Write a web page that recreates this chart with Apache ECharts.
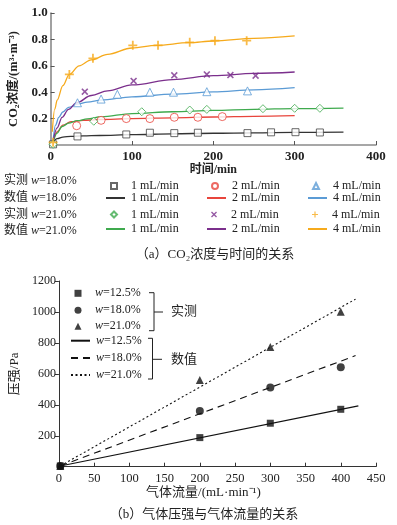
<!DOCTYPE html>
<html>
<head>
<meta charset="utf-8">
<script src="https://cdn.jsdelivr.net/npm/echarts@6/dist/echarts.min.js"></script>
<style>
  html, body { margin: 0; padding: 0; background: #fff; }
  #chart { width: 397px; height: 525px; }
</style>
</head>
<body>
<div id="chart"></div>
<script>
// ---- (a) CO2 concentration vs time ----
// measured points [t(min), C]
const sq18 = [[3, 0.005], [33, 0.065], [93, 0.08], [122, 0.093], [152, 0.09], [181, 0.093], [242, 0.09], [271, 0.096], [301, 0.097], [331, 0.095]];
const circ18 = [[32, 0.146], [62, 0.187], [93, 0.2], [122, 0.2], [152, 0.21], [181, 0.21], [211, 0.215]];
const tri18 = [[33, 0.32], [62, 0.348], [82, 0.384], [122, 0.4], [151, 0.4], [192, 0.404], [242, 0.41]];
const dia21 = [[3, 0.005], [53, 0.18], [112, 0.252], [171, 0.265], [192, 0.27], [261, 0.275], [300, 0.278], [331, 0.278]];
const cross21 = [[42, 0.404], [102, 0.485], [152, 0.528], [192, 0.535], [221, 0.53], [252, 0.525]];
const plus21 = [[3, 0.02], [23, 0.535], [52, 0.657], [101, 0.755], [132, 0.755], [171, 0.778], [202, 0.79], [241, 0.79]];
// numerical curves [t, C]
const num18_1 = [[3, 0.02], [8, 0.048], [15, 0.06], [25, 0.066], [40, 0.069], [60, 0.072], [100, 0.078], [150, 0.085], [200, 0.089], [250, 0.092], [300, 0.095], [360, 0.097]];
const num18_2 = [[3, 0.03], [8, 0.1], [15, 0.15], [25, 0.177], [40, 0.186], [60, 0.193], [100, 0.2], [150, 0.206], [200, 0.212], [250, 0.217], [300, 0.222]];
const num18_4 = [[3, 0.03], [6, 0.15], [10, 0.21], [15, 0.25], [22, 0.285], [33, 0.31], [45, 0.325], [62, 0.34], [100, 0.365], [150, 0.385], [200, 0.402], [250, 0.418], [300, 0.434]];
const num21_1 = [[3, 0.02], [8, 0.09], [14, 0.14], [22, 0.165], [33, 0.184], [45, 0.198], [62, 0.214], [100, 0.238], [150, 0.252], [200, 0.262], [250, 0.27], [300, 0.276], [360, 0.28]];
const num21_2 = [[3, 0.03], [8, 0.13], [14, 0.21], [22, 0.27], [32, 0.32], [50, 0.375], [70, 0.41], [100, 0.455], [150, 0.495], [200, 0.525], [250, 0.542], [300, 0.553]];
const num21_4 = [[2, 0.1], [5, 0.27], [8, 0.34], [15, 0.45], [23, 0.535], [35, 0.6], [50, 0.645], [70, 0.687], [100, 0.735], [130, 0.755], [170, 0.775], [200, 0.788], [250, 0.808], [300, 0.826]];

// ---- (b) pressure vs gas flow ----
const p125 = [[2, 5], [200, 188], [300, 281], [400, 371]];
const p180 = [[2, 5], [200, 360], [300, 511], [400, 643]];
const p210 = [[2, 5], [200, 561], [300, 773], [400, 1001]];
const n125 = [[2, 5], [425, 393]];
const n180 = [[2, 5], [421, 718]];
const n210 = [[2, 5], [421, 1083]];

const serif = "'Liberation Serif','Noto Sans CJK SC',serif";
const C_BLACK = '#333', C_RED = '#e8453c', C_BLUE = '#5b9bd5', C_GREEN = '#3faa4e', C_PURPLE = '#7b2f8c', C_YELLOW = '#f6aa1c';
const X_PATH = 'path://M0,1.6L1.6,0L5,3.4L8.4,0L10,1.6L6.6,5L10,8.4L8.4,10L5,6.6L1.6,10L0,8.4L3.4,5Z';
const PLUS_PATH = 'path://M4,0H6V4H10V6H6V10H4V6H0V4H4Z';

const labels = {};
function scat(name, label, data, symbol, size, color, hollow, xi) {
    labels[name] = label;
    return {
        name: name, type: 'scatter', xAxisIndex: xi, yAxisIndex: xi, data: data,
        symbol: symbol, symbolSize: size, z: 5,
        itemStyle: hollow ? { color: '#fff', borderColor: color, borderWidth: 1 } : { color: color }
    };
}
function curve(name, label, data, color, xi, type) {
    labels[name] = label;
    return {
        name: name, type: 'line', xAxisIndex: xi, yAxisIndex: xi, data: data,
        symbol: 'none', smooth: xi === 0 ? 0.35 : false, smoothMonotone: 'x',
        lineStyle: { color: color, width: xi === 0 ? 1.3 : 1.1, type: type || 'solid' },
        itemStyle: { color: color }
    };
}

const series = [
    curve('n18_1', '1 mL/min', num18_1, C_BLACK, 0),
    curve('n18_2', '2 mL/min', num18_2, C_RED, 0),
    curve('n18_4', '4 mL/min', num18_4, C_BLUE, 0),
    curve('n21_1', '1 mL/min', num21_1, C_GREEN, 0),
    curve('n21_2', '2 mL/min', num21_2, C_PURPLE, 0),
    curve('n21_4', '4 mL/min', num21_4, C_YELLOW, 0),
    scat('m18_1', '1 mL/min', sq18, 'rect', 7, '#444', true, 0),
    scat('m18_2', '2 mL/min', circ18, 'circle', 8, C_RED, true, 0),
    scat('m18_4', '4 mL/min', tri18, 'triangle', 8, C_BLUE, true, 0),
    scat('m21_1', '1 mL/min', dia21, 'diamond', 8, C_GREEN, true, 0),
    scat('m21_2', '2 mL/min', cross21, X_PATH, 7, C_PURPLE, false, 0),
    scat('m21_4', '4 mL/min', plus21, PLUS_PATH, 9, C_YELLOW, false, 0),

    curve('n12.5', '{i|w}=12.5%', n125, '#111', 1, 'solid'),
    curve('n18.0', '{i|w}=18.0%', n180, '#111', 1, [7, 5]),
    curve('n21.0', '{i|w}=21.0%', n210, '#111', 1, [2, 2.5]),
    scat('p12.5', '{i|w}=12.5%', p125, 'rect', 7, '#111', false, 1),
    scat('p18.0', '{i|w}=18.0%', p180, 'circle', 8, '#111', false, 1),
    scat('p21.0', '{i|w}=21.0%', p210, 'triangle', 8, '#111', false, 1)
];

// legend layout
const legends = [];
function addLegend(name, x, y, isLine, size, markSize) {
    const iw = isLine ? 19 : markSize;
    const off = isLine ? 25 : 17 + markSize / 2;
    const lg = {
        data: [name], left: x - off, top: y - 7, padding: 0,
        itemWidth: iw, itemHeight: isLine ? 8 : markSize, selectedMode: false,
        formatter: n => labels[n],
        textStyle: {
            fontFamily: serif, fontSize: size, color: '#222',
            padding: [0, 0, 0, off - iw - 5],
            rich: { i: { fontStyle: 'italic', fontFamily: serif, fontSize: size, color: '#222' } }
        }
    };
    if (isLine) lg.itemStyle = { opacity: 0 };
    legends.push(lg);
}
const rowsA = [187, 199, 215.5, 230];
const colsA = [130, 231, 332];
[['m18_1', 'm18_2', 'm18_4'], ['n18_1', 'n18_2', 'n18_4'], ['m21_1', 'm21_2', 'm21_4'], ['n21_1', 'n21_2', 'n21_4']]
    .forEach((row, r) => row.forEach((n, c) => addLegend(n, colsA[c], rowsA[r], n[0] === 'n', 12, 6)));
const rowsB = [294.3, 311.3, 327.3, 341.7, 359, 376];
['p12.5', 'p18.0', 'p21.0', 'n12.5', 'n18.0', 'n21.0'].forEach((n, r) => addLegend(n, 95, rowsB[r], n[0] === 'n', 12, 7));

function txt(x, y, text, size, align, extra) {
    return {
        type: 'text', x: x, y: y,
        style: Object.assign({
            text: text, fontFamily: serif, fontSize: size, fill: '#222',
            align: align || 'left', verticalAlign: 'middle',
            rich: { i: { fontStyle: 'italic', fontFamily: serif, fontSize: size, fill: '#222' } }
        }, extra || {})
    };
}
const bk = { stroke: '#222', lineWidth: 1, fill: null };
const graphic = [
    txt(4, 181, '实测 {i|w}=18.0%', 12),
    txt(4, 198, '数值 {i|w}=18.0%', 12),
    txt(4, 214.5, '实测 {i|w}=21.0%', 12),
    txt(4, 230.5, '数值 {i|w}=21.0%', 12),
    txt(215, 255, '（a）CO₂浓度与时间的关系', 13, 'center'),
    txt(204, 515, '（b）气体压强与气体流量的关系', 13, 'center'),
    { type: 'polyline', shape: { points: [[149, 292.7], [154, 292.7], [154, 330.7], [149, 330.7]] }, style: bk },
    { type: 'line', shape: { x1: 154, y1: 312, x2: 163, y2: 312 }, style: bk },
    txt(171, 312, '实测', 13),
    { type: 'polyline', shape: { points: [[148, 338.3], [152.5, 338.3], [152.5, 379], [148, 379]] }, style: bk },
    { type: 'line', shape: { x1: 152.5, y1: 359.3, x2: 162, y2: 359.3 }, style: bk },
    txt(171, 359.3, '数值', 13)
];

const axisA = { lineStyle: { color: '#8a8a8a', width: 1.6 } };
const axisB = { lineStyle: { color: '#333', width: 1 } };

const chart = echarts.init(document.getElementById('chart'));
chart.setOption({
    backgroundColor: '#fff',
    animation: false,
    grid: [
        { left: 49, top: 13, width: 327, height: 132 },
        { left: 51, top: 281, width: 325, height: 185.7 }
    ],
    xAxis: [
        {
            gridIndex: 0, type: 'value', min: 0, max: 400, interval: 100,
            name: '时间/min', nameLocation: 'middle', nameGap: 19,
            nameTextStyle: { fontFamily: serif, fontSize: 12, fontWeight: 'bold', color: '#222' },
            axisLine: axisA, axisTick: { inside: true, length: 4, lineStyle: { color: '#555' } },
            axisLabel: { fontFamily: serif, fontSize: 13, fontWeight: 'bold', color: '#222', margin: 5 },
            splitLine: { show: false }
        },
        {
            gridIndex: 1, type: 'value', min: 0, max: 450, interval: 50,
            name: '气体流量/(mL·min⁻¹)', nameLocation: 'middle', nameGap: 17,
            nameTextStyle: { fontFamily: serif, fontSize: 13, color: '#222', padding: [0, 28, 0, 0] },
            axisLine: axisB, axisTick: { inside: true, length: 4, lineStyle: { color: '#333' } },
            axisLabel: { fontFamily: serif, fontSize: 12.5, color: '#222', margin: 6 },
            splitLine: { show: false }
        }
    ],
    yAxis: [
        {
            gridIndex: 0, type: 'value', min: 0, max: 1, interval: 0.2,
            name: 'CO₂浓度/(m³·m⁻³)', nameLocation: 'middle', nameGap: 24,
            nameTextStyle: { fontFamily: serif, fontSize: 12.5, fontWeight: 'bold', color: '#222' },
            axisLine: axisA, axisTick: { inside: true, length: 4, lineStyle: { color: '#555' } },
            axisLabel: { fontFamily: serif, fontSize: 13, fontWeight: 'bold', color: '#222', margin: 3, showMinLabel: false,
                formatter: v => v.toFixed(1) },
            splitLine: { show: false }
        },
        {
            gridIndex: 1, type: 'value', min: 0, max: 1200, interval: 200,
            name: '压强/Pa', nameLocation: 'middle', nameGap: 33,
            nameTextStyle: { fontFamily: serif, fontSize: 13, color: '#222' },
            axisLine: axisB, axisTick: { inside: false, length: 4, lineStyle: { color: '#333' } },
            axisLabel: { fontFamily: serif, fontSize: 12, color: '#222', margin: 3, showMinLabel: false,
                formatter: v => String(v) },
            splitLine: { show: false }
        }
    ],
    legend: legends,
    graphic: graphic,
    series: series
});
</script>
</body>
</html>
